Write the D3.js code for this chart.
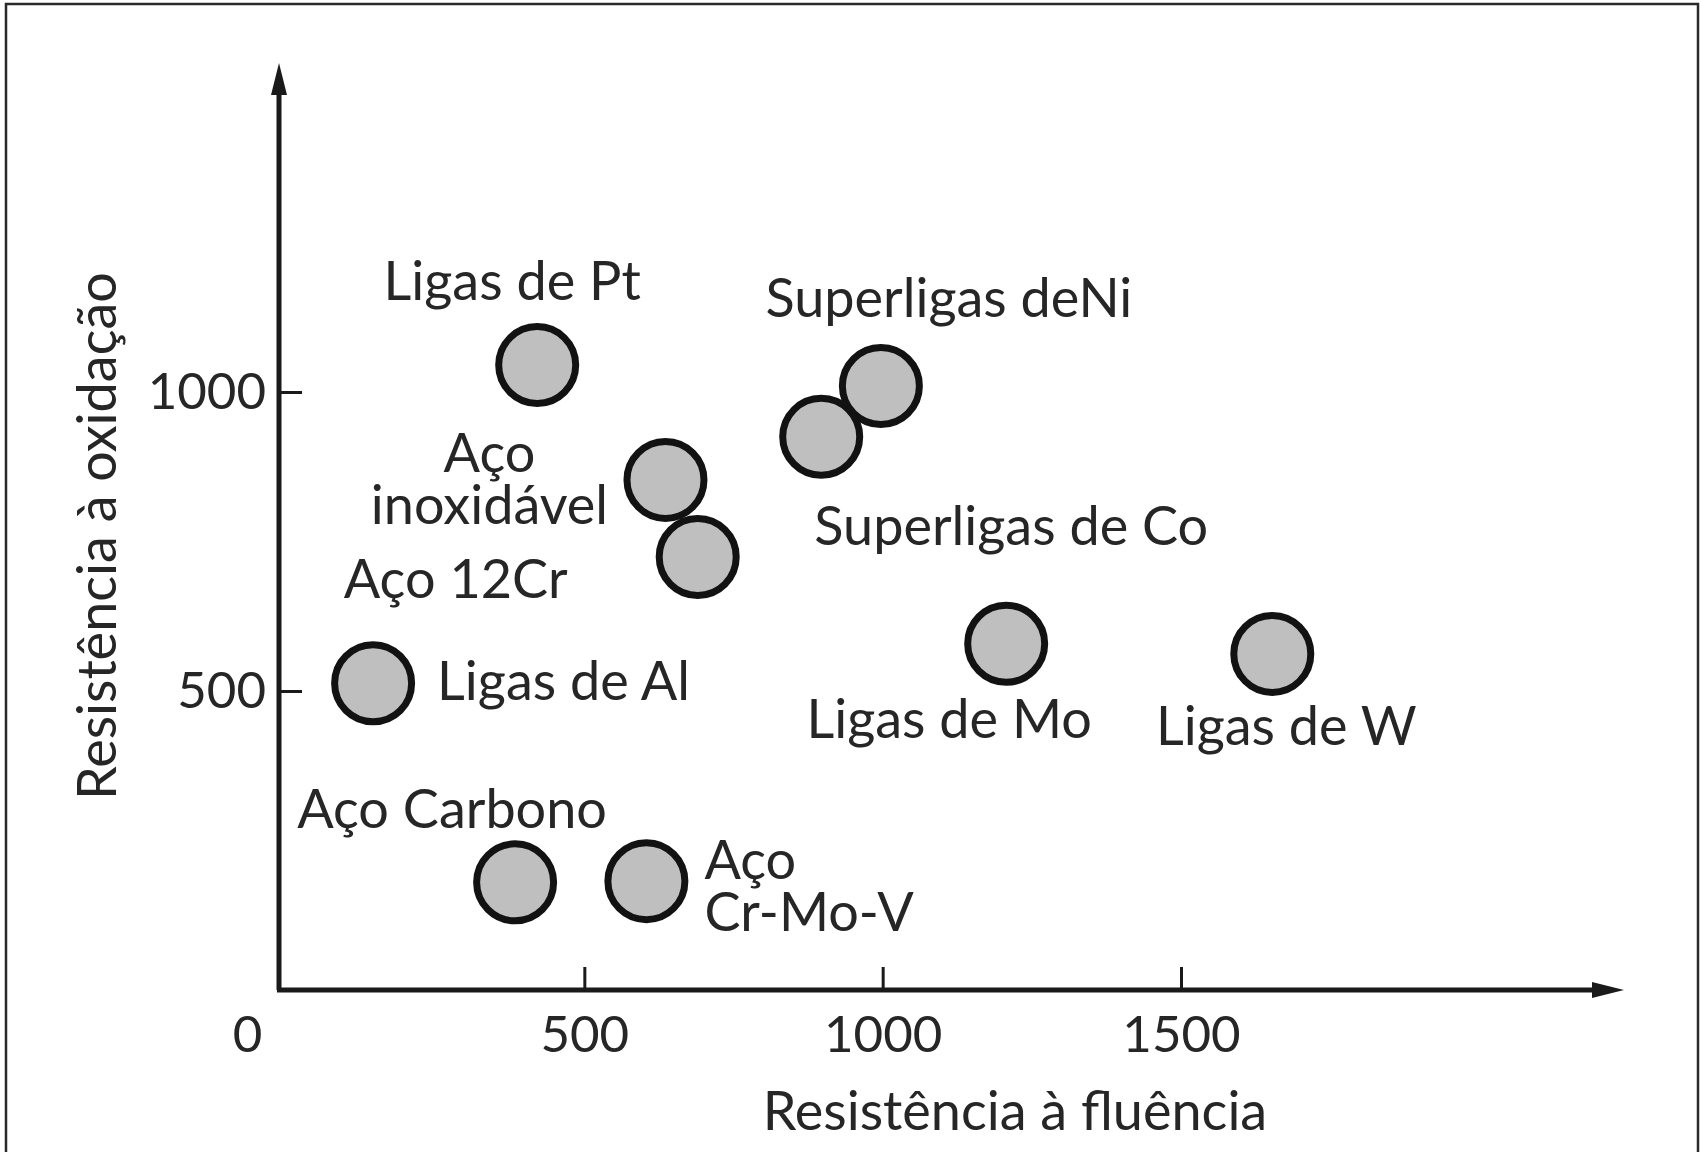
<!DOCTYPE html>
<html>
<head>
<meta charset="utf-8">
<script src="https://cdnjs.cloudflare.com/ajax/libs/d3/7.8.5/d3.min.js"></script>
<style>
	body { margin: 0; background: #fff; }
	text { font-family: Lato, "Open Sans", sans-serif; fill: #262626; }
</style>
</head>
<body>
<div id="chart"></div>
<script>

// data
var materials = [
	"Ligas de Pt", "Superligas deNi", "Superligas de Co", "Aço\ninoxidável", "Aço 12Cr",
	"Ligas de Al", "Ligas de Mo", "Ligas de W", "Aço Carbono", "Aço\nCr-Mo-V"
];
var creep     = [421, 997, 897, 636, 690, 146, 1207, 1653, 384, 604];
var oxidation = [1045, 1010, 925, 853, 724, 513, 579, 562, 180, 182];

var xTicks = [0, 500, 1000, 1500];
var yTicks = [500, 1000];

var xTitle = "Resistência à fluência",
	yTitle = "Resistência à oxidação";

// where each label sits relative to its circle (px)
var labelPlace = [
	{dx: -25,  dy: -65, anchor: "middle"},
	{dx: 68,   dy: -69, anchor: "middle"},
	{dx: 190,  dy: 108, anchor: "middle"},
	{dx: -176, dy: -8,  anchor: "middle"},
	{dx: -242, dy: 41,  anchor: "middle"},
	{dx: 64,   dy: 17,  anchor: "start"},
	{dx: -57,  dy: 94,  anchor: "middle"},
	{dx: 14,   dy: 91,  anchor: "middle"},
	{dx: -63,  dy: -54, anchor: "middle"},
	{dx: 58,   dy: -2,  anchor: "start"}
];

var
	width = 1701,
	height = 1152,
	origin = {x: 279, y: 990},
	yTop = 63,
	xRight = 1624,
	fontSize = 54,
	tickSize = 51,
	lineGap = 52,

	x = d3.scaleLinear().domain([0, 1500]).range([286, 1181]),
	y = d3.scaleLinear().domain([0, 1000]).range([990, 392]),

	svg = d3.select("#chart")
			.append("svg")
			.attr("width", width)
			.attr("height", height);

svg.append("rect")
	.attr("x", 6)
	.attr("y", 4)
	.attr("width", 1692)
	.attr("height", 1170)
	.style("fill", "none")
	.style("stroke", "#2a2a2a")
	.style("stroke-width", 2.5);

// axes: ticks point into the plot
var xAxis = svg.append("g")
		.attr("transform", "translate(0," + origin.y + ")")
		.call(d3.axisBottom(x).tickValues(xTicks).tickFormat(d3.format("d"))
			.tickSizeInner(-23).tickSizeOuter(0).tickPadding(26));

var yAxis = svg.append("g")
		.attr("transform", "translate(" + origin.x + ",0)")
		.call(d3.axisLeft(y).tickValues(yTicks).tickFormat(d3.format("d"))
			.tickSizeInner(-23).tickSizeOuter(0).tickPadding(13));

[xAxis, yAxis].forEach(function(g){
	g.select(".domain").remove();
	g.selectAll(".tick line").style("stroke", "#1a1a1a").style("stroke-width", 3);
	g.selectAll(".tick text")
		.style("font-size", tickSize + "px")
		.style("font-family", "Lato, sans-serif")
		.attr("fill", "#262626");
});

// the 0 sits left of the vertical axis and has no tick mark
xAxis.selectAll(".tick")
	.filter(function(d){ return d === 0; })
	.each(function(){
		d3.select(this).select("line").remove();
		d3.select(this).select("text").attr("x", -39);
	});

yAxis.selectAll(".tick line").attr("x1", 0).attr("x2", 23);

svg.append("line")
	.attr("x1", origin.x).attr("y1", origin.y)
	.attr("x2", origin.x).attr("y2", yTop + 28)
	.style("stroke", "#1a1a1a").style("stroke-width", 5);

svg.append("path")
	.attr("d", "M" + origin.x + "," + yTop + "L" + (origin.x + 8) + "," + (yTop + 32) + "L" + (origin.x - 8) + "," + (yTop + 32) + "Z")
	.style("fill", "#1a1a1a");

svg.append("line")
	.attr("x1", origin.x - 2).attr("y1", origin.y)
	.attr("x2", xRight - 28).attr("y2", origin.y)
	.style("stroke", "#1a1a1a").style("stroke-width", 5);

svg.append("path")
	.attr("d", "M" + xRight + "," + origin.y + "L" + (xRight - 32) + "," + (origin.y - 8) + "L" + (xRight - 32) + "," + (origin.y + 8) + "Z")
	.style("fill", "#1a1a1a");

svg.append("text")
	.attr("x", 1015)
	.attr("y", 1130)
	.attr("text-anchor", "middle")
	.style("font-size", fontSize + "px")
	.text(xTitle);

svg.append("text")
	.attr("transform", "translate(116,536) rotate(-90)")
	.attr("text-anchor", "middle")
	.style("font-size", fontSize + "px")
	.text(yTitle);

// points
var pts = materials.map(function(m, i){
	return {name: m, cx: x(creep[i]), cy: y(oxidation[i]), place: labelPlace[i]};
});

svg.append("g")
	.selectAll("circle")
	.data(pts)
	.enter()
	.append("circle")
	.attr("cx", function(d){ return d.cx; })
	.attr("cy", function(d){ return d.cy; })
	.attr("r", 38.5)
	.style("fill", "#bfbfbf")
	.style("stroke", "#121212")
	.style("stroke-width", 7);

svg.append("g")
	.selectAll("text")
	.data(pts)
	.enter()
	.append("text")
	.attr("text-anchor", function(d){ return d.place.anchor; })
	.style("font-size", fontSize + "px")
	.each(function(d){
		var t = d3.select(this);
		d.name.split("\n").forEach(function(line, k){
			t.append("tspan")
				.attr("x", d.cx + d.place.dx)
				.attr("y", d.cy + d.place.dy + k * lineGap)
				.text(line);
		});
	});

</script>
</body>
</html>
